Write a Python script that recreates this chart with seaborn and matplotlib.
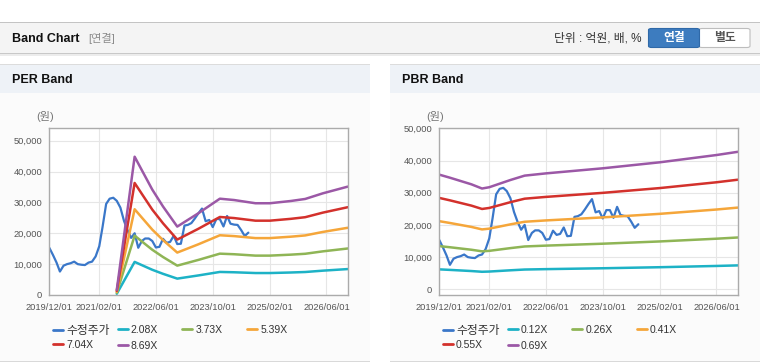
import pandas as pd
import matplotlib.pyplot as plt
from matplotlib.patches import Rectangle, FancyBboxPatch
from matplotlib.lines import Line2D
from matplotlib.legend import Legend
import seaborn as sns

# --- 1. Data (monthly adjusted price, band bases) ---
price_start = "2019-12-01"
price = [15300, 13000, 10500, 7600, 9500, 10000, 10300, 10800, 10000, 9800,
         9700, 10500, 10800, 12500, 15800, 22000, 29500, 31200, 31500, 30500,
         28300, 24000, 21000, 18500, 20000, 15300, 17500, 18300, 18300, 17500,
         15400, 15600, 18200, 16900, 17200, 19200, 16500, 16600, 22500, 22700,
         23300, 24800, 26500, 28000, 23900, 24300, 22000, 24600, 24600, 22200,
         25600, 23100, 22800, 22700, 21000, 19100, 20200]

# PER band: EPS used for the band lines
per_dates = ["2021-07-01", "2021-12-01", "2022-02-01", "2022-05-01", "2022-08-01",
             "2022-12-01", "2023-06-01", "2023-12-01", "2024-04-01", "2024-10-01",
             "2025-02-01", "2025-08-01", "2025-12-01", "2026-05-01", "2026-12-01"]
per_eps = [190, 5155, 4650, 3930, 3300, 2550, 3050, 3590, 3540, 3420,
           3420, 3505, 3580, 3790, 4040]
per_labels = ["2.08X", "3.73X", "5.39X", "7.04X", "8.69X"]
per_multiples = [2.08, 3.73, 5.39, 7.04, 8.69]

# PBR band: BPS used for the band lines
pbr_dates = ["2019-12-01", "2020-03-01", "2020-06-01", "2020-09-01", "2020-12-01",
             "2021-02-01", "2021-08-01", "2021-12-01", "2022-06-01", "2023-10-01",
             "2025-02-01", "2026-06-01", "2026-12-01"]
pbr_bps = [51600, 50230, 48740, 47250, 45360, 45940, 49190, 51160, 52170, 54460,
           57160, 60430, 61880]
pbr_labels = ["0.12X", "0.26X", "0.41X", "0.55X", "0.69X"]
pbr_multiples = [0.12, 0.26, 0.41, 0.55, 0.69]

x_ticks = ["2019-12-01", "2021-02-01", "2022-06-01", "2023-10-01", "2025-02-01", "2026-06-01"]
y_ticks = [0, 10000, 20000, 30000, 40000, 50000]

price_color = "#3a77c9"
band_colors = ["#1db2c6", "#8fb556", "#f5a63a", "#d3312c", "#9b58a6"]

# --- 2. Style ---
sns.set_style("white")
plt.rcParams["font.family"] = ["Liberation Sans", "Noto Sans CJK KR"]

W, H = 760, 364
fig = plt.figure(figsize=(W / 100, H / 100), dpi=100)


def rect(x0, y0, x1, y1, **kw):
    # pixel box measured from the top-left corner, kept behind the axes
    fig.patches.append(Rectangle((x0 / W, 1 - y1 / H), (x1 - x0) / W, (y1 - y0) / H,
                                 transform=fig.transFigure, lw=0, zorder=-5, **kw))


def band_frame(dates, base, multiples, labels):
    rows = []
    for m, lab in zip(multiples, labels):
        for d, b in zip(dates, base):
            rows.append({"date": pd.Timestamp(d), "value": b * m, "band": lab})
    return pd.DataFrame(rows)


# --- 3. Page chrome ---
rect(0, 22, 760, 53, fc="#f4f4f4")
rect(0, 22, 760, 23, fc="#c4c4c4")
rect(0, 53, 760, 54, fc="#c8c8c8")
rect(0, 54, 760, 56, fc="#ececec")
fig.text(12 / W, 1 - 38.5 / H, "Band Chart", weight="bold", size=9, va="center", color="#111111")
fig.text(88 / W, 1 - 38.5 / H, "[연결]", size=8, va="center", color="#8c8c8c")
fig.text(641 / W, 1 - 38.5 / H, "단위 : 억원, 배, %", size=8.5, va="center", ha="right", color="#333333")
fig.patches.append(FancyBboxPatch((699 / W, 1 - 47.5 / H), 51 / W, 19 / H,
                                  boxstyle="round,pad=0,rounding_size=0.004",
                                  transform=fig.transFigure, fc="white", ec="#bdbdbd", lw=0.8))
fig.patches.append(FancyBboxPatch((648.5 / W, 1 - 47.5 / H), 51 / W, 19 / H,
                                  boxstyle="round,pad=0,rounding_size=0.004",
                                  transform=fig.transFigure, fc="#3d7cbf", ec="#2f69a8", lw=0.8))
fig.text(674 / W, 1 - 38.5 / H, "연결", size=8.5, weight="bold", va="center", ha="center", color="white")
fig.text(725 / W, 1 - 38.5 / H, "별도", size=8.5, weight="bold", va="center", ha="center", color="#555555")

for x0, x1, title in [(0, 370, "PER Band"), (390, 760, "PBR Band")]:
    rect(x0, 64, x1, 362, fc="#fbfbfb")
    rect(x0, 64, x1, 93, fc="#eef2f7")
    rect(x0, 64, x1, 65, fc="#dcdcdc")
    rect(x0, 361, x1, 362, fc="#d9d9d9")
    fig.text((x0 + 12) / W, 1 - 80 / H, title, weight="bold", size=9, va="center", color="#111111")

# --- 4. Charts ---
price_dates = pd.date_range(price_start, periods=len(price), freq="MS")
panels = [
    (band_frame(per_dates, per_eps, per_multiples, per_labels), per_labels, 49.3, (0, 54000), 45, 53),
    (band_frame(pbr_dates, pbr_bps, pbr_multiples, pbr_labels), pbr_labels, 439.3, (-1770, 50000), 435, 443),
]

for bands, labels, left_px, ylim, unit_x, leg_x in panels:
    ax = fig.add_axes([left_px / W, 1 - 295 / H, 298.5 / W, (295 - 128.3) / H])
    ax.set_facecolor("white")
    sns.lineplot(x=price_dates, y=price, color=price_color, lw=1.6, ax=ax)
    sns.lineplot(data=bands, x="date", y="value", hue="band",
                 palette=dict(zip(labels, band_colors)), lw=1.8,
                 estimator=None, legend=False, ax=ax)

    ax.set_xlim(pd.Timestamp("2019-12-01"), pd.Timestamp("2026-12-01"))
    ax.set_ylim(*ylim)
    ax.set_xticks([pd.Timestamp(t) for t in x_ticks])
    ax.set_xticklabels([t.replace("-", "/") for t in x_ticks])
    ax.set_yticks(y_ticks)
    ax.set_yticklabels([f"{v:,}" for v in y_ticks])
    ax.set_xlabel("")
    ax.set_ylabel("")
    ax.grid(True, color="#e6e6e6", lw=0.8)
    ax.set_axisbelow(True)
    for s in ax.spines.values():
        s.set_color("#ababab")
        s.set_linewidth(1)
    ax.tick_params(axis="both", length=2.5, width=0.8, color="#ababab",
                   labelsize=6.7, labelcolor="#555555")
    ax.tick_params(axis="x", pad=3)
    ax.tick_params(axis="y", pad=2.5)
    fig.text(unit_x / W, 1 - 117 / H, "(원)", size=8, ha="center", va="center", color="#777777")

    # legend: four fixed-width columns, two rows (price + bands)
    handles = [Line2D([], [], color=c, lw=2) for c in [price_color] + band_colors]
    names = ["수정주가"] + labels
    columns = [[0, 4], [1, 5], [2], [3]]
    for k, col in enumerate(columns):
        leg = Legend(ax, [handles[i] for i in col], [names[i] for i in col],
                     loc="upper left", bbox_to_anchor=((leg_x + 64.7 * k) / W, 1 - 325 / H),
                     bbox_transform=fig.transFigure, frameon=False, fontsize=7.5,
                     handlelength=0.95, handletextpad=0.3, borderpad=0, borderaxespad=0,
                     labelspacing=0.3 if k == 0 else 0.55, labelcolor="#333333")
        for t in leg.get_texts():
            if t.get_text() == "수정주가":
                t.set_fontsize(8.5)
        ax.add_artist(leg)

fig.savefig("out.png", dpi=100)
